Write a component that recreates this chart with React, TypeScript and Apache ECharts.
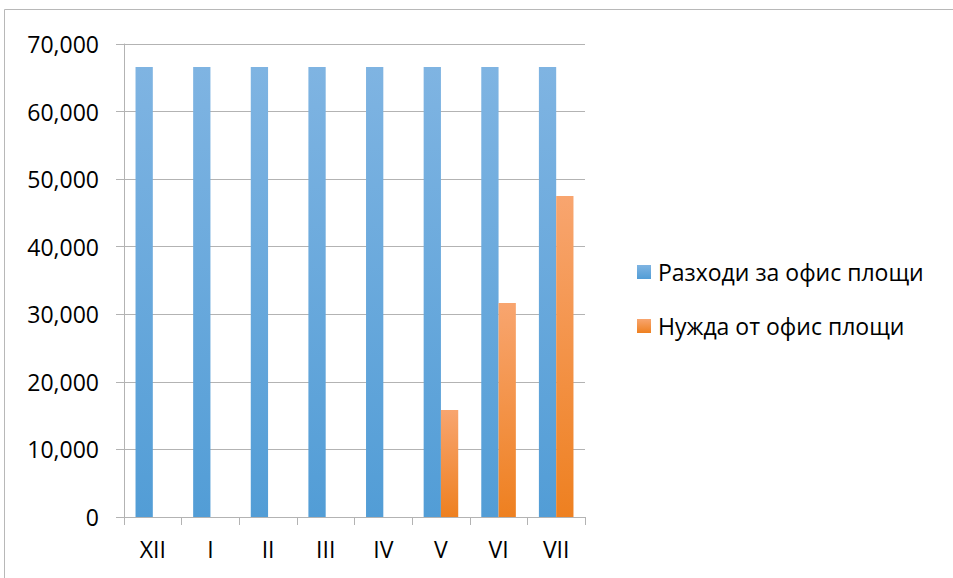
import React, { useEffect, useRef } from "react";
import * as echarts from "echarts";

const categories = ["XII", "I", "II", "III", "IV", "V", "VI", "VII"];
const expenses = [66600, 66600, 66600, 66600, 66600, 66600, 66600, 66600];
const needs = [null, null, null, null, null, 15830, 31670, 47500];
const seriesNames = ["Разходи за офис площи", "Нужда от офис площи"];

const FONT = "'Open Sans', 'Noto Sans', sans-serif";

export default function App() {
  const ref = useRef<HTMLDivElement>(null);
  useEffect(() => {
    const chart = echarts.init(ref.current!, null, { renderer: "svg" });
    const grad = (top: string, bottom: string) =>
      new echarts.graphic.LinearGradient(0, 0, 0, 1, [
        { offset: 0, color: top },
        { offset: 1, color: bottom },
      ]);
    chart.setOption({
      animation: false,
      backgroundColor: "#ffffff",
      graphic: [
        {
          type: "rect",
          shape: { x: 4.5, y: 9.5, width: 1000, height: 1000 },
          style: { fill: "none", stroke: "#B8B8B8", lineWidth: 1 },
          silent: true,
        },
      ],
      grid: { left: 124, right: 368, top: 44, bottom: 61 },
      legend: {
        orient: "vertical",
        left: 632,
        top: 253,
        itemWidth: 14,
        itemHeight: 14,
        itemGap: 26,
        icon: "rect",
        textStyle: { fontFamily: FONT, fontSize: 23, color: "#000", lineHeight: 28, padding: [0, 0, 0, 2] },
        data: seriesNames,
      },
      xAxis: {
        type: "category",
        data: categories,
        axisLine: { lineStyle: { color: "#B3B3B3", width: 1 } },
        axisTick: { show: true, length: 8, lineStyle: { color: "#B3B3B3" } },
        axisLabel: { fontFamily: FONT, fontSize: 23, color: "#000", margin: 20 },
      },
      yAxis: {
        type: "value",
        min: 0,
        max: 70000,
        interval: 10000,
        axisLine: { show: true, lineStyle: { color: "#B3B3B3", width: 1 } },
        axisTick: { show: true, length: 8, lineStyle: { color: "#B3B3B3" } },
        splitLine: { show: true, lineStyle: { color: "#B3B3B3", width: 1 } },
        axisLabel: {
          fontFamily: FONT,
          fontSize: 23,
          color: "#000",
          margin: 25,
          formatter: (v: number) => v.toLocaleString("en-US"),
        },
      },
      series: [
        {
          name: seriesNames[0],
          type: "bar",
          data: expenses,
          barGap: "0%",
          barCategoryGap: "40%",
          itemStyle: { color: grad("#7FB4E2", "#529DD6") },
        },
        {
          name: seriesNames[1],
          type: "bar",
          data: needs,
          barGap: "0%",
          barCategoryGap: "40%",
          itemStyle: { color: grad("#F8A56F", "#EE8020") },
        },
      ],
    });
    return () => chart.dispose();
  }, []);
  return (
    <div
      ref={ref}
      style={{ position: "fixed", left: 0, top: 0, width: 953, height: 578 }}
    />
  );
}
